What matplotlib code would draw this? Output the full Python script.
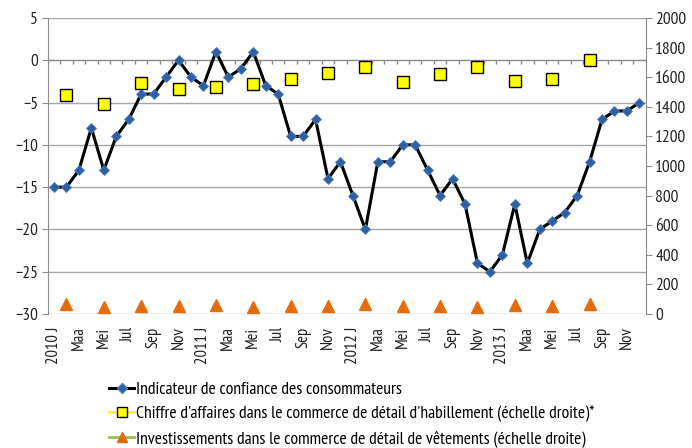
import numpy as np
import matplotlib
matplotlib.use("Agg")
import matplotlib.pyplot as plt
from matplotlib.lines import Line2D
from matplotlib import font_manager

names = {f.name for f in font_manager.fontManager.ttflist}
FONT = "Liberation Sans"
for cand in ["Liberation Sans Narrow", "Arial Narrow", "Arimo Narrow",
             "PT Sans Narrow", "Roboto Condensed", "Archivo Narrow"]:
    if cand in names:
        FONT = cand
        break
plt.rcParams["font.family"] = [FONT, "DejaVu Sans"]

# ---- data ----
years = [2010, 2011, 2012, 2013]
month_labels = ["J", "Maa", "Mei", "Jul", "Sep", "Nov"]
confidence = [-15, -15, -13, -8, -13, -9, -7, -4, -4, -2, 0, -2,
              -3, 1, -2, -1, 1, -3, -4, -9, -9, -7, -14, -12,
              -16, -20, -12, -12, -10, -10, -13, -16, -14, -17, -24, -25,
              -23, -17, -24, -20, -19, -18, -16, -12, -7, -6, -6, -5]
turnover = [1482, 1421, 1561, 1520, 1536, 1554, 1588, 1626,
            1669, 1568, 1624, 1669, 1577, 1588, 1714]
investment = [70, 50, 56, 52, 61, 50, 56, 56, 68, 56, 54, 45, 63, 52, 65]

label_conf = "Indicateur de confiance des consommateurs"
label_turn = "Chiffre d'affaires dans le commerce de détail d'habillement (échelle droite)*"
label_inv = "Investissements dans le commerce de détail de vêtements (échelle droite)"

n = len(confidence)
x = np.arange(n)
xq = np.arange(1, n, 3)[:len(turnover)]

tick_pos = np.arange(0, n, 2)
tick_lab = []
for i in tick_pos:
    m = i % 12
    lab = month_labels[m // 2]
    if m == 0:
        lab = f"{years[i // 12]} J"
    tick_lab.append(lab)

fig = plt.figure(figsize=(6.92, 4.48), dpi=100)
ax = fig.add_axes([0.069, 0.299, 0.864, 0.661])
ax2 = ax.twinx()

grid_c = "#a6a6a6"
ax.set_xlim(-0.5, n - 0.5)
ax.set_ylim(-30, 5)
ax.set_yticks(np.arange(-30, 6, 5))
for v in np.arange(-30, 6, 5):
    ax.axhline(v, color=grid_c if v != 0 else "#8c8c8c", lw=1.0, zorder=0)
# category-axis tick marks on the zero line
ax.vlines(np.arange(-0.5, n), -0.45, 0, color="#8c8c8c", lw=1.0, zorder=0)

ax.plot(x, confidence, color="black", lw=2.2, marker="D", ms=5.5,
        mfc="#2f5f9e", mec="#4a7cc0", mew=0.6, zorder=3)

ax2.set_ylim(0, 2000)
ax2.set_yticks(np.arange(0, 2001, 200))
ax2.plot(xq, turnover, ls="none", marker="s", ms=8.5, mfc="#ffff00",
         mec="black", mew=1.0, zorder=3)
ax2.plot(xq, investment, ls="none", marker="^", ms=8, mfc="#e46c0a",
         mec="#e46c0a", zorder=3)

ax.set_xticks(tick_pos)
ax.set_xticklabels(tick_lab, rotation=90, fontsize=12, color="#222222")
ax.tick_params(axis="x", length=0, pad=9)
ax.tick_params(axis="y", length=4, color="#8c8c8c", labelsize=12.5,
               labelcolor="#222222", pad=3)
ax2.tick_params(axis="y", length=4, color="#8c8c8c", labelsize=12.5,
                labelcolor="#222222", pad=3)

for a in (ax, ax2):
    for s in ("top", "bottom"):
        a.spines[s].set_visible(False)
    a.spines["left"].set_color("#8c8c8c")
    a.spines["right"].set_color("#8c8c8c")
ax2.spines["left"].set_visible(False)
ax.spines["right"].set_visible(False)

handles = [
    Line2D([], [], color="black", lw=2.2, marker="D", ms=5, mfc="#2f5f9e", mec="#4a7cc0"),
    Line2D([], [], color="#ffff00", lw=2, marker="s", ms=7, mfc="#ffff00", mec="black"),
    Line2D([], [], color="#9bbb59", lw=2, marker="^", ms=7, mfc="#e46c0a", mec="#e46c0a"),
]
fig.legend(handles, [label_conf, label_turn, label_inv], loc="upper left",
           bbox_to_anchor=(0.158, 0.148), frameon=False, fontsize=12.7,
           handlelength=1.4, handletextpad=0.1, labelspacing=0.45,
           borderaxespad=0, borderpad=0, bbox_transform=fig.transFigure)

fig.savefig("out.png", dpi=100)
